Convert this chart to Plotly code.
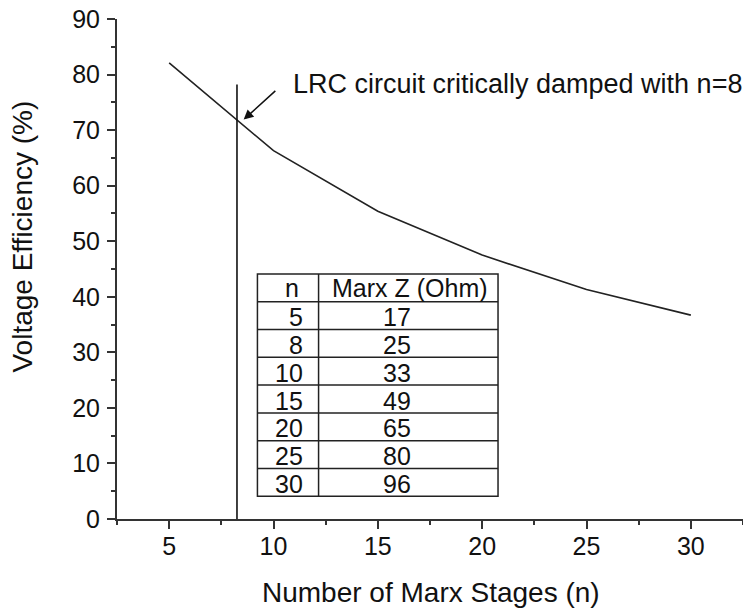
import plotly.graph_objects as go

# Data
stages = [5, 8, 10, 15, 20, 25, 30]
efficiency = [82.1, 72.6, 66.3, 55.4, 47.5, 41.3, 36.7]

critical_n = 8.25
critical_line_top = 78.2

table_n = ["5", "8", "10", "15", "20", "25", "30"]
table_z = ["17", "25", "33", "49", "65", "80", "96"]
table_headers = ["n", "Marx Z (Ohm)"]

x_ticks = [5, 10, 15, 20, 25, 30]
y_ticks = [0, 10, 20, 30, 40, 50, 60, 70, 80, 90]

FONT = "Arial, Liberation Sans, Helvetica, sans-serif"
AX = "#333333"
TXT = "#111111"

fig = go.Figure()
fig.add_trace(go.Scatter(x=stages, y=efficiency, mode="lines",
                         line=dict(color="#222222", width=1.6), showlegend=False))
fig.add_trace(go.Scatter(x=[critical_n, critical_n], y=[0, critical_line_top], mode="lines",
                         line=dict(color="#111111", width=1.6), showlegend=False))

# Table (in data coordinates)
tx0, tx1, tx2 = 9.23, 12.16, 20.76
ty_top = 44.1
row_h = 5.0
nrows = len(table_n) + 1
shapes = []
shapes.append(dict(type="rect", xref="x", yref="y", x0=tx0, x1=tx2,
                   y0=ty_top - nrows * row_h, y1=ty_top,
                   line=dict(color="#222222", width=1.5)))
shapes.append(dict(type="line", xref="x", yref="y", x0=tx1, x1=tx1,
                   y0=ty_top - nrows * row_h, y1=ty_top,
                   line=dict(color="#222222", width=1.5)))
for i in range(1, nrows):
    yy = ty_top - i * row_h
    shapes.append(dict(type="line", xref="x", yref="y", x0=tx0, x1=tx2, y0=yy, y1=yy,
                       line=dict(color="#222222", width=1.5)))

annotations = []
tfont = dict(family=FONT, size=25, color=TXT)
annotations.append(dict(x=10.9, y=ty_top - 0.5 * row_h, xref="x", yref="y",
                        text=table_headers[0], showarrow=False, font=tfont))
annotations.append(dict(x=(tx1 + tx2) / 2 + 0.1, y=ty_top - 0.5 * row_h, xref="x", yref="y",
                        text=table_headers[1], showarrow=False, font=tfont))
for i, (a, b) in enumerate(zip(table_n, table_z)):
    yc = ty_top - (i + 1.5) * row_h - 0.3
    annotations.append(dict(x=11.5, y=yc, xref="x", yref="y", text=a, showarrow=False,
                            xanchor="right", font=tfont))
    annotations.append(dict(x=15.9, y=yc, xref="x", yref="y", text=b, showarrow=False,
                            font=tfont))

# Arrow and label
annotations.append(dict(x=8.57, y=71.9, ax=10.16, ay=77.3, xref="x", yref="y",
                        axref="x", ayref="y", text="", showarrow=True,
                        arrowhead=2, arrowsize=1.3, arrowwidth=1.5, arrowcolor="#111111"))
annotations.append(dict(x=10.86, y=78.3, xref="x", yref="y", xanchor="left", yanchor="middle",
                        text="LRC circuit critically damped with n=8", showarrow=False,
                        font=dict(family=FONT, size=27, color=TXT)))

# Axis titles
annotations.append(dict(x=0.501, y=(519.3 - 593) / 500.3, xref="paper", yref="paper",
                        text="Number of Marx Stages (n)", showarrow=False,
                        yanchor="middle",
                        font=dict(family=FONT, size=28, color=TXT)))
annotations.append(dict(x=(22.5 - 117.3) / 625.7, y=(519.3 - 236.5) / 500.3,
                        xref="paper", yref="paper", textangle=-90, xanchor="center",
                        text="Voltage Efficiency (%)", showarrow=False,
                        font=dict(family=FONT, size=28, color=TXT)))

fig.update_layout(
    width=743, height=613,
    margin=dict(l=117, r=0, t=19, b=94, autoexpand=False),
    paper_bgcolor="white", plot_bgcolor="white",
    shapes=shapes, annotations=annotations,
    showlegend=False,
)
fig.update_xaxes(range=[2.5, 32.5], tickvals=x_ticks, ticks="outside", ticklen=8, tickwidth=2,
                 tickcolor=AX, showline=True, linewidth=2, linecolor=AX, showgrid=False,
                 zeroline=False, tickfont=dict(family=FONT, size=25, color=TXT),
                 ticklabelstandoff=-4, automargin=False,
                 minor=dict(dtick=2.5, tick0=0, ticks="outside", ticklen=4, tickwidth=2,
                            tickcolor=AX, showgrid=False))
fig.update_yaxes(range=[0, 90], tickvals=y_ticks, ticks="outside", ticklen=8, tickwidth=2,
                 tickcolor=AX, showline=True, linewidth=2, linecolor=AX, showgrid=False,
                 zeroline=False, tickfont=dict(family=FONT, size=25, color=TXT),
                 ticklabelstandoff=2, automargin=False,
                 minor=dict(dtick=5, tick0=0, ticks="outside", ticklen=4, tickwidth=2,
                            tickcolor=AX, showgrid=False))

fig.write_html("out.html", config={"displayModeBar": False},
               post_script="document.body.style.margin='0';document.body.style.overflow='hidden';")
